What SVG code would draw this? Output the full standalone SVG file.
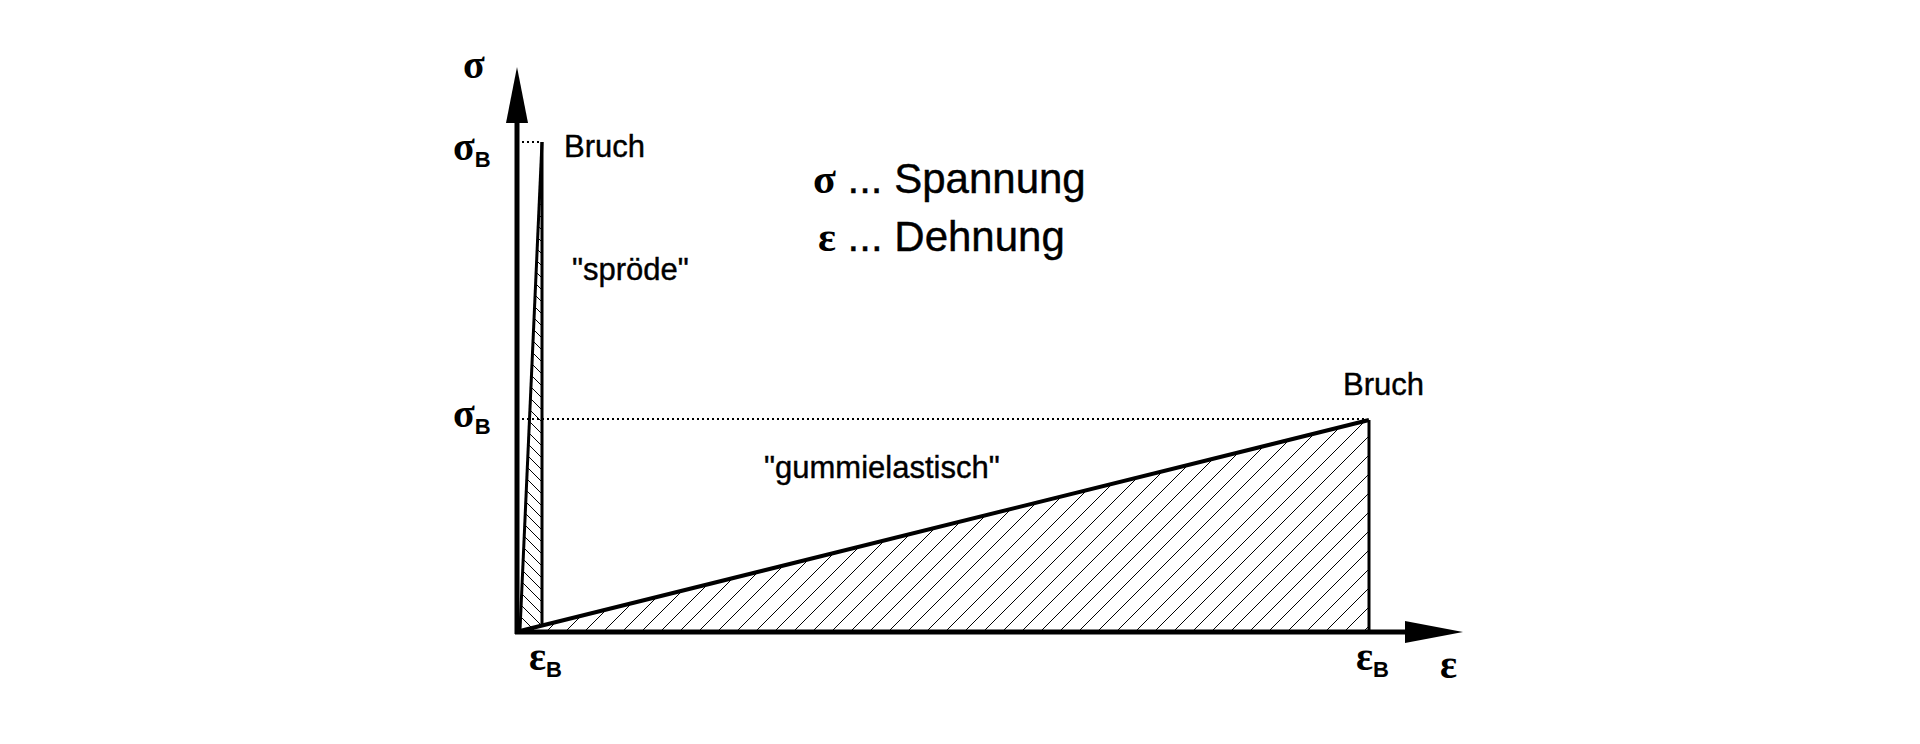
<svg xmlns="http://www.w3.org/2000/svg" width="1920" height="744" viewBox="0 0 1920 744">
<style>
.t{font-family:"Liberation Sans",Arial,sans-serif;font-size:31px;fill:#000;stroke:#000;stroke-width:0.4}
.g{font-family:"Liberation Serif","Times New Roman",serif;font-weight:bold;font-size:40px;fill:#000}
.s{font-family:"Liberation Sans",Arial,sans-serif;font-weight:bold;font-size:22px}
.big{font-family:"Liberation Sans",Arial,sans-serif;font-size:42px;fill:#000;stroke:#000;stroke-width:0.4}
</style>
<defs>
<pattern id="hr" patternUnits="userSpaceOnUse" width="19" height="19"><path d="M0 19L19 0M-5 5L5 -5M14 24L24 14" stroke="#000" stroke-width="1"/></pattern>
<pattern id="hl" patternUnits="userSpaceOnUse" width="12" height="12"><path d="M0 0L12 12M-6 6L6 18M6 -6L18 6" stroke="#000" stroke-width="1"/></pattern>
</defs>
<rect width="1920" height="744" fill="#fff"/>
<g id="areas">
<polygon points="520,630 542,142 542,630" fill="url(#hl)"/>
<polygon points="520,631 1369,420 1369,631" fill="url(#hr)"/>
</g>
<g id="connectors" stroke="#000" fill="none">
<line x1="517" y1="120" x2="517" y2="634" stroke-width="5"/>
<polygon points="517,67 506,123 528,123" fill="#000" stroke="none"/>
<line x1="515" y1="632" x2="1410" y2="632" stroke-width="5"/>
<polygon points="1463,632 1405,621 1405,643" fill="#000" stroke="none"/>
<line x1="520" y1="630" x2="542" y2="142" stroke-width="3"/>
<line x1="542" y1="142" x2="542" y2="627" stroke-width="3"/>
<line x1="520" y1="631" x2="1369" y2="420" stroke-width="4"/>
<line x1="1369" y1="420" x2="1369" y2="632" stroke-width="3"/>
<line x1="522" y1="142" x2="540" y2="142" stroke-width="2" stroke-dasharray="2,3"/>
<line x1="522" y1="419" x2="1366" y2="419" stroke-width="2" stroke-dasharray="2,3"/>
</g>
<g id="labels">
<text class="g" x="463" y="78">σ</text>
<text class="g" x="453" y="160">σ<tspan class="s" dy="7">B</tspan></text>
<text class="g" x="453" y="427">σ<tspan class="s" dy="7">B</tspan></text>
<text class="g" x="529" y="670">ε<tspan class="s" dy="7">B</tspan></text>
<text class="g" x="1356" y="670">ε<tspan class="s" dy="7">B</tspan></text>
<text class="g" x="1440" y="678">ε</text>
<text class="t" x="564" y="157">Bruch</text>
<text class="t" x="1343" y="395">Bruch</text>
<text class="t" x="572" y="280">"spröde"</text>
<text class="t" x="764" y="478">"gummielastisch"</text>
<text class="big" x="813" y="193"><tspan class="g" style="font-size:42px;stroke:none">σ</tspan> ... Spannung</text>
<text class="big" x="818" y="251"><tspan class="g" style="font-size:42px;stroke:none">ε</tspan> ... Dehnung</text>
</g>
</svg>
